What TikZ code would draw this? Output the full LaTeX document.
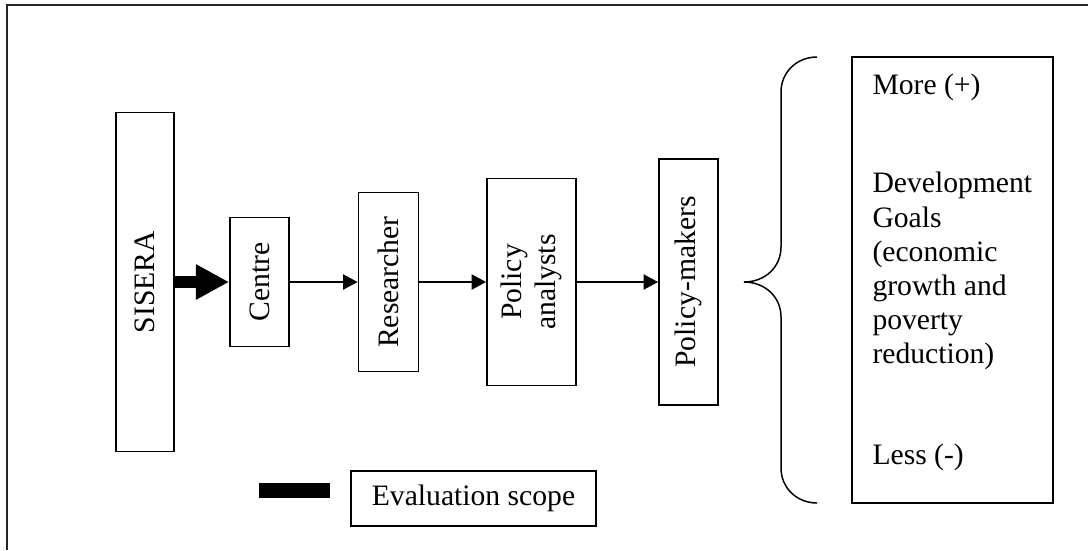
\documentclass[tikz,border=0pt]{standalone}
\usepackage{fontspec}
\setmainfont{Liberation Serif}
\usetikzlibrary{arrows.meta}

\begin{document}
\begin{tikzpicture}[x=0.4049pt, y=-0.4049pt, font=\fontsize{12}{13.8}\selectfont,
  box/.style={draw, line width=0.75pt, inner sep=0pt},
  upbox/.style={box, rotate=90, align=center},
  flow/.style={-{Triangle[length=5.9pt, width=6.2pt]}, line width=0.5pt}]
\useasboundingbox (0,0) rectangle (1088,550);
\draw[line width=0.8pt, black!85] (7,550) -- (7,5) -- (1088,5);
\node[upbox, minimum width=137.3pt, minimum height=23.5pt] (sisera) at (145,282) {SISERA};
\node[upbox, minimum width=52.2pt, minimum height=23.9pt] (centre) at (259.5,282) {Centre};
\node[upbox, minimum width=72.5pt, minimum height=24.3pt] (researcher) at (388.5,282) {Researcher};
\node[upbox, minimum width=83.8pt, minimum height=36pt] (analysts) at (531.5,282) {Policy\\analysts};
\node[upbox, minimum width=99.6pt, minimum height=23.9pt] (makers) at (688.5,282) {Policy-makers};
\draw[line width=4.5pt, -{Triangle[length=13.4pt, width=13.4pt]}] (sisera) -- (centre);
\draw[flow] (centre) -- (researcher);
\draw[flow] (researcher) -- (analysts);
\draw[flow] (analysts) -- (makers);
\draw[line width=0.6pt] (817,57) .. controls (797,57) and (781,72) .. (781,92) -- (781,247)
  .. controls (781,267) and (765,282) .. (744,282) .. controls (765,282) and (781,297) .. (781,317)
  -- (781,468) .. controls (781,488) and (797,503) .. (817,503);
\node[box, minimum width=81.4pt, minimum height=180.6pt] (goals) at (952.5,280) {};
\node[anchor=base west, inner sep=0pt] (more) at (872,94) {More (+)};
\node[anchor=west, align=left, inner sep=0pt] (aims) at (872,271) {Development\\Goals\\(economic\\growth and\\poverty\\reduction)};
\node[anchor=base west, inner sep=0pt] (less) at (872,464) {Less (-)};
\node[fill=black, minimum width=28.7pt, minimum height=6.1pt, inner sep=0pt] (key) at (294.5,490.5) {};
\node[box, minimum width=99.2pt, minimum height=22.3pt] (scope) at (473.5,498.5) {Evaluation scope};
\end{tikzpicture}
\end{document}
